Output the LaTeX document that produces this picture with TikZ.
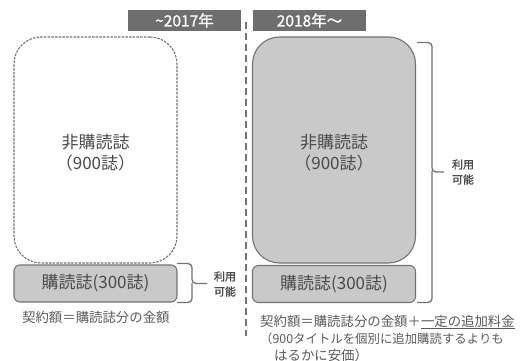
\documentclass[tikz,border=0pt]{standalone}
\usepackage{fontspec}
\newfontfamily\jp{Noto Sans CJK JP}
\newfontfamily\jpb[FakeBold=1.2]{Noto Sans CJK JP}
\definecolor{edge}{HTML}{737373}
\definecolor{boxfill}{HTML}{C9C9C9}
\definecolor{hdr}{HTML}{6E6E6E}
\definecolor{txt}{HTML}{4A4A4A}
\definecolor{txtl}{HTML}{5A5A5A}
\tikzset{
  header/.style={fill=hdr, text=white, minimum width=113pt, minimum height=21pt, inner sep=0pt, font=\jpb\fontsize{15.5}{18}\selectfont},
  bigbox/.style={rounded corners=27pt, minimum width=163pt, minimum height=226pt, inner sep=0pt},
  bigtext/.style={align=center, inner sep=0pt, text=txt, font=\jp\fontsize{17}{21}\selectfont},
  subbox/.style={draw=edge, line width=1.1pt, fill=boxfill, rounded corners=6pt, minimum width=163pt, minimum height=37pt, inner sep=0pt, text=txt, font=\jp\fontsize{17}{20}\selectfont},
  bracestyle/.style={draw=edge, line width=1.3pt, rounded corners=4pt},
  avail/.style={align=center, inner sep=0pt, text=txt, font=\jpb\fontsize{11}{15}\selectfont},
  note/.style={anchor=west, inner sep=0pt, text=txtl, font=\jp\fontsize{13.4}{16}\selectfont}
}
\begin{document}
\begin{tikzpicture}[x=1pt,y=-1pt]
\useasboundingbox (0,0) rectangle (520,361);
\fill[white] (0,0) rectangle (520,361);
% headers
\node[header] (h1) at (184.5,20.5) {\textasciitilde 2017年};
\node[header] (h2) at (309.5,20.5) {2018年～};
% divider
\draw[edge, line width=1.8pt, dash pattern=on 7pt off 4pt] (246,22) -- (246,336);
% left
\node[bigbox, draw=edge, line width=1.1pt, dash pattern=on 2.5pt off 1.2pt] (lbig) at (95.5,150) {};
\node[bigtext] (ltxt) at (95.5,153) {非購読誌\\（900誌）};
\node[subbox] (lsub) at (95.5,283.5) {購読誌(300誌)};
\draw[bracestyle] (177,263.5) -- (192,263.5) -- (192,283.5) -- (207,283.5);
\draw[bracestyle] (192,283) -- (192,302.5) -- (177,302.5);
\node[avail] (lav) at (225,284) {利用\\可能};
\node[note] (lnote) at (22,317) {契約額＝購読誌分の金額};
% right
\node[bigbox, draw=edge, line width=1.1pt, fill=boxfill] (rbig) at (334,150) {};
\node[bigtext] (rtxt) at (334,153) {非購読誌\\（900誌）};
\node[subbox] (rsub) at (334,284) {購読誌(300誌)};
\draw[bracestyle] (417,42.5) -- (432,42.5) -- (432,172) -- (444,172);
\draw[bracestyle] (432,171) -- (432,302.5) -- (417,302.5);
\node[avail] (rav) at (463,172) {利用\\可能};
\node[note] (rn1) at (260,322) {契約額＝購読誌分の金額＋\underline{一定の追加料金}};
\node[note, font=\jp\fontsize{12.4}{16}\selectfont] (rn2) at (260,339) {（900タイトルを個別に追加購読するよりも};
\node[note] (rn3) at (274,355) {はるかに安価）};
\end{tikzpicture}
\end{document}
